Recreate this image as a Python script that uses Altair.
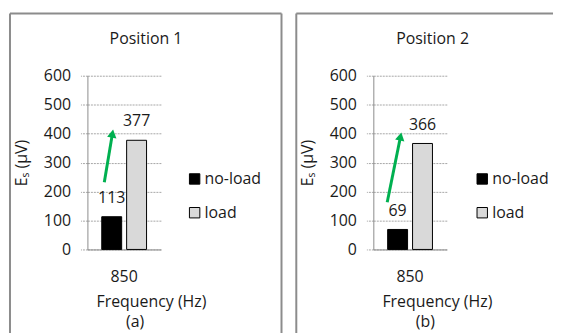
import altair as alt
import pandas as pd

# ---- data ----
frequency = ["850"]
conditions = ["no-load", "load"]
position1_es = [113, 377]
position2_es = [69, 366]
panel_titles = ["Position 1", "Position 2"]
panel_captions = ["(a)", "(b)"]
y_ticks = [0, 100, 200, 300, 400, 500, 600]
bar_colors = ["#000000", "#d9d9d9"]
# green arrow annotations (start value, arrow-head value, in µV)
arrow1_values = [232, 400]
arrow2_values = [163, 390]

FONT = "Open Sans"
FS = 16
TXT = "#1a1a1a"
GRID = "#a6a6a6"
FRAME = "#8c8c8c"
GREEN = "#00b050"
W, H = 74, 175


def one_row():
    return pd.DataFrame({"k": [0]})


def panel(values, title, caption, arrow_vals, arrow_x, head_x, angle,
          frame_l, frame_r, draw_right, title_x, xtitle_x, caption_x, legend_x):
    df = pd.DataFrame({
        "freq": frequency * len(conditions),
        "cond": conditions,
        "es": values,
    })
    x = alt.X("freq:N", title="Frequency (Hz)",
              scale=alt.Scale(paddingInner=0, paddingOuter=0.32),
              axis=alt.Axis(labelAngle=0, ticks=False, tickSize=0, labelPadding=19,
                            titlePadding=9, titleX=xtitle_x))
    xo = alt.XOffset("cond:N", sort=conditions,
                     scale=alt.Scale(paddingInner=0.2, paddingOuter=0))
    y = alt.Y("es:Q", title="Eₛ (μV)",
              scale=alt.Scale(domain=[0, 600], nice=False),
              axis=alt.Axis(values=y_ticks, labelOverlap=False))
    y_plain = dict(axis=alt.Axis(values=y_ticks, labelOverlap=False), title="Eₛ (μV)")
    color = alt.Color("cond:N", sort=conditions,
                      scale=alt.Scale(domain=conditions, range=bar_colors),
                      legend=alt.Legend(title=None, orient="none", legendX=legend_x, legendY=96,
                                        direction="vertical", symbolType="square", symbolSize=110,
                                        symbolStrokeColor="black", symbolStrokeWidth=1,
                                        labelFont=FONT, labelFontSize=FS, labelColor=TXT,
                                        labelOffset=2, rowPadding=18, padding=0))
    bars = alt.Chart(df).mark_bar(stroke="black", strokeWidth=1).encode(
        x=x, xOffset=xo, y=y, color=color)
    labels = alt.Chart(df).mark_text(font=FONT, fontSize=FS, color=TXT, dy=-19).encode(
        x=x, xOffset=xo, y=y, text="es:Q")
    arrow = alt.Chart(one_row()).mark_rule(color=GREEN, strokeWidth=3).encode(
        x=alt.value(arrow_x[0]), x2=alt.value(arrow_x[1]),
        y=alt.Y(datum=arrow_vals[0], **y_plain), y2=alt.datum(arrow_vals[1]))
    head = alt.Chart(one_row()).mark_point(shape="triangle-up", filled=True, color=GREEN,
                                           opacity=1, size=90, angle=angle).encode(
        x=alt.value(head_x), y=alt.Y(datum=arrow_vals[1], **y_plain))
    ttl = alt.Chart(one_row()).mark_text(text=title, font=FONT, fontSize=FS, color=TXT).encode(
        x=alt.value(title_x), y=alt.value(-36.5))
    cap = alt.Chart(one_row()).mark_text(text=caption, font=FONT, fontSize=FS, color=TXT).encode(
        x=alt.value(caption_x), y=alt.value(247.8))
    top = -62.7
    bottom = 262
    frames = [
        alt.Chart(one_row()).mark_rule(color=FRAME, strokeWidth=2).encode(
            x=alt.value(frame_l), x2=alt.value(frame_r), y=alt.value(top)),
        alt.Chart(one_row()).mark_rule(color=FRAME, strokeWidth=2).encode(
            x=alt.value(frame_l), y=alt.value(top), y2=alt.value(bottom)),
    ]
    if draw_right:
        frames.append(alt.Chart(one_row()).mark_rule(color=FRAME, strokeWidth=2).encode(
            x=alt.value(frame_r), y=alt.value(top), y2=alt.value(bottom)))
    return alt.layer(bars, labels, arrow, head, ttl, cap, *frames).properties(width=W, height=H)


p1 = panel(position1_es, panel_titles[0], panel_captions[0], arrow1_values,
           [17, 25.2], 25.2, 9.5, -78, 195.5, True, 59, 64, 48, 100)
p2 = panel(position2_es, panel_titles[1], panel_captions[1], arrow2_values,
           [14, 27.4], 27.4, 11.5, -77.6, 181, False, 59.7, 64, 52.4, 101.7)

chart = alt.hconcat(p1, p2, spacing=11).resolve_scale(
    color="independent", x="independent", y="independent"
).resolve_legend(color="independent").properties(
    padding={"left": 0, "top": 2, "right": 0, "bottom": 0},
    background="white",
).configure_view(
    stroke="transparent"
).configure_axis(
    labelFont=FONT, labelFontSize=FS, labelColor=TXT,
    titleFont=FONT, titleFontSize=FS, titleColor=TXT, titleFontWeight="normal",
    domainColor=FRAME, domainWidth=1, labelOverlap=False,
).configure_axisY(
    tickSize=7, tickColor=GRID, tickDash=[2, 1],
    gridColor=GRID, gridDash=[2, 1], labelPadding=10, titlePadding=14,
)

chart.save("out.html", embed_options={"renderer": "svg", "actions": False})
